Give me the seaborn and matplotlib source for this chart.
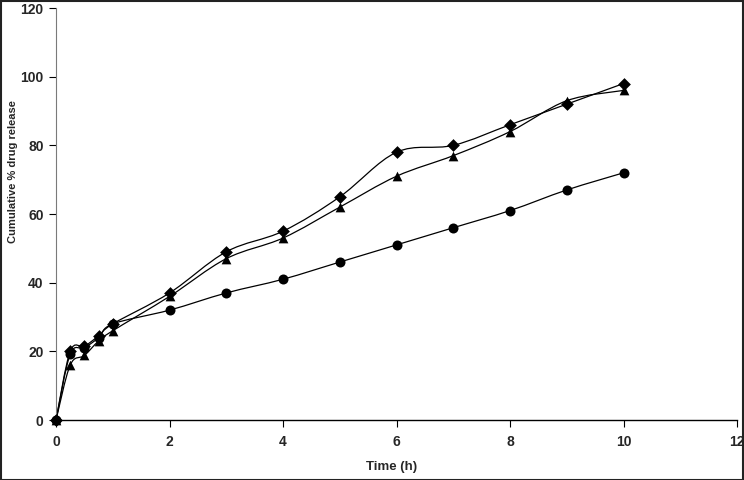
import numpy as np
import seaborn as sns
import matplotlib.pyplot as plt
from matplotlib.path import Path
from matplotlib.patches import PathPatch, Rectangle

time_h = [0, 0.25, 0.5, 0.75, 1, 2, 3, 4, 5, 6, 7, 8, 9, 10]
release_diamond = [0, 20, 21.5, 24.5, 28, 37, 49, 55, 65, 78, 80, 86, 92, 98]
release_triangle = [0, 16, 18.8, 23, 26, 36, 47, 53, 62, 71, 77, 84, 93, 96]
release_circle = [0, 19.2, 21, 24, 28, 32, 37, 41, 46, 51, 56, 61, 67, 72]

x_ticks = [0, 2, 4, 6, 8, 10, 12]
y_ticks = [0, 20, 40, 60, 80, 100, 120]


def smooth_path(x, y):
    # Excel-like smoothed line: cubic bezier through the points (Catmull-Rom handles)
    x = np.asarray(x, float)
    y = np.asarray(y, float)
    n = len(x)
    verts = [(x[0], y[0])]
    codes = [Path.MOVETO]
    for i in range(n - 1):
        x0, y0 = (x[i - 1], y[i - 1]) if i > 0 else (x[i], y[i])
        x3, y3 = (x[i + 2], y[i + 2]) if i + 2 < n else (x[i + 1], y[i + 1])
        c1 = (x[i] + (x[i + 1] - x0) / 6, y[i] + (y[i + 1] - y0) / 6)
        c2 = (x[i + 1] - (x3 - x[i]) / 6, y[i + 1] - (y3 - y[i]) / 6)
        verts += [c1, c2, (x[i + 1], y[i + 1])]
        codes += [Path.CURVE4] * 3
    return Path(verts, codes)


sns.set_theme(style="white")
plt.rcParams['font.family'] = ['Liberation Sans', 'DejaVu Sans']
plt.rcParams['font.weight'] = 'bold'

fig = plt.figure(figsize=(7.44, 4.8), dpi=100)
ax = fig.add_axes([0.0753, 0.125, 0.9153, 0.8583])

series = [(release_diamond, 'D', 6.5), (release_triangle, '^', 7), (release_circle, 'o', 7.2)]
for values, marker, size in series:
    ax.add_patch(PathPatch(smooth_path(time_h, values), facecolor='none',
                           edgecolor='black', lw=0.9, zorder=2))
    sns.scatterplot(x=time_h, y=values, marker=marker, s=size ** 2, color='black',
                    edgecolor='black', linewidth=0, ax=ax, zorder=3, clip_on=False)

ax.set_xlim(0, 12)
ax.set_ylim(0, 120)
ax.set_xticks(x_ticks)
ax.set_yticks(y_ticks)
ax.set_xticklabels([str(t) for t in x_ticks], fontsize=10, fontweight='bold')
ax.set_yticklabels([str(t) for t in y_ticks], fontsize=10, fontweight='bold')
ax.tick_params(axis='both', direction='out', length=5, width=0.8, color='black',
               bottom=True, left=True, pad=4)
ax.tick_params(axis='x', pad=6)

for side in ['top', 'right']:
    ax.spines[side].set_visible(False)
ax.spines['bottom'].set_color('black')
ax.spines['bottom'].set_linewidth(1.0)
ax.spines['left'].set_color('#7a7a7a')
ax.spines['left'].set_linewidth(0.8)

ax.set_xlabel('Time (h)', fontsize=9.5, fontweight='bold')
ax.set_ylabel('Cumulative % drug release', fontsize=8, fontweight='bold')
ax.xaxis.set_label_coords(0.493, -0.1)
ax.yaxis.set_label_coords(-0.056, 0.604)

fig.patches.append(Rectangle((0.001, 0.001), 0.998, 0.997, transform=fig.transFigure,
                             fill=False, edgecolor='#222222', lw=1.5))

fig.savefig('out.png', dpi=100)
